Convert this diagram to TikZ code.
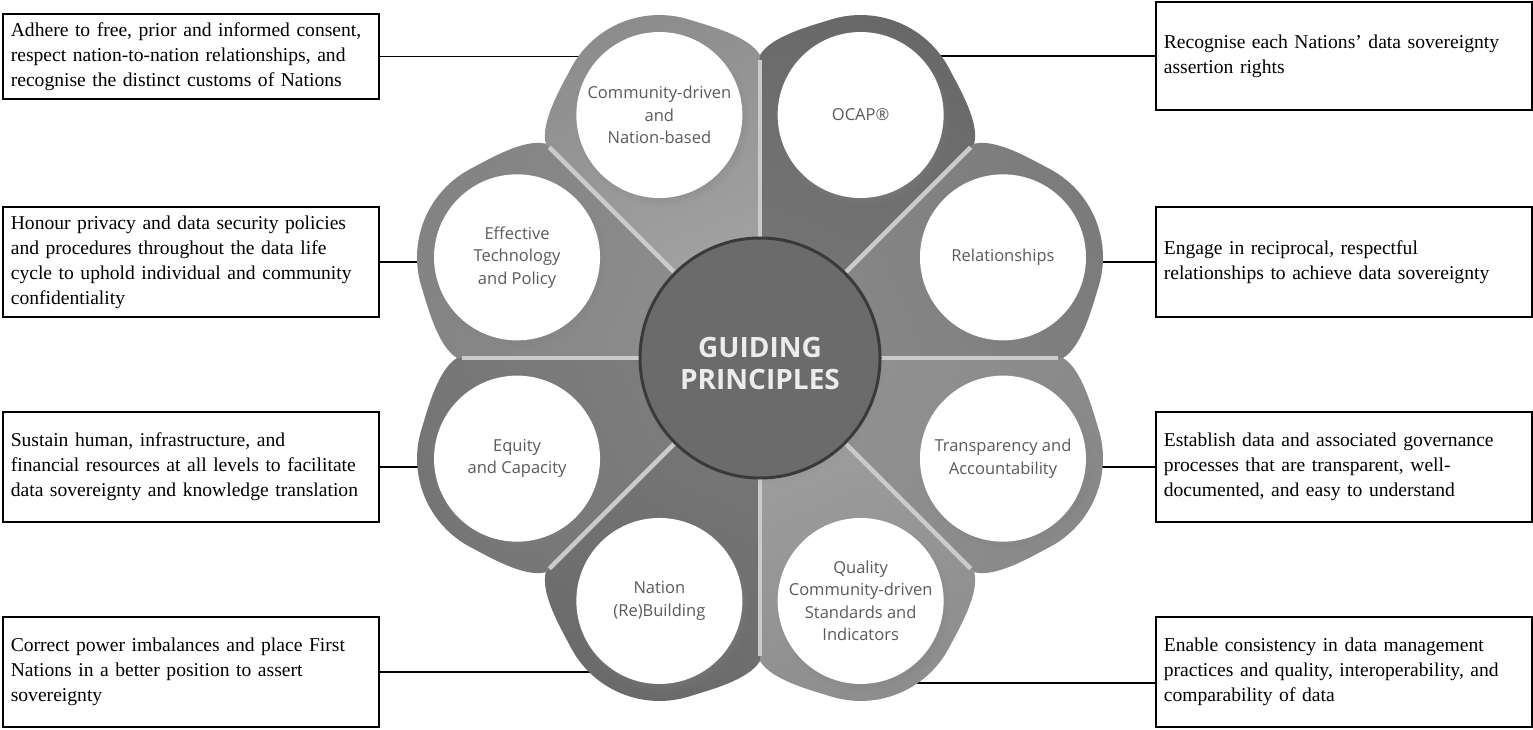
\documentclass[tikz,border=0pt]{standalone}
\usepackage{fontspec}
\setmainfont{Liberation Serif}
\newfontfamily\labelfont{Open Sans}
\usepackage{tikz}
\usetikzlibrary{positioning,shadows,backgrounds}
\hyphenpenalty=10000

% ring colour and lighter tail colour of each petal
\definecolor{cdgray}{HTML}{8C8C8C}    \definecolor{cdtail}{HTML}{A6A6A6}
\definecolor{ocapgray}{HTML}{686868}  \definecolor{ocaptail}{HTML}{777777}
\definecolor{relgray}{HTML}{7B7B7B}   \definecolor{reltail}{HTML}{898989}
\definecolor{transgray}{HTML}{888888} \definecolor{transtail}{HTML}{929292}
\definecolor{qualgray}{HTML}{8D8D8D}  \definecolor{qualtail}{HTML}{A0A0A0}
\definecolor{nationgray}{HTML}{6A6A6A}\definecolor{nationtail}{HTML}{787878}
\definecolor{equitygray}{HTML}{757575}\definecolor{equitytail}{HTML}{7E7E7E}
\definecolor{effgray}{HTML}{838383}   \definecolor{efftail}{HTML}{8E8E8E}
\definecolor{hubgray}{HTML}{6B6B6B}
\definecolor{hubedge}{HTML}{3A3A3A}
\definecolor{hubtext}{HTML}{ECECEC}
\definecolor{labeltext}{HTML}{5A5A5A}
\definecolor{dividergray}{HTML}{CBCBCB}

\begin{document}
\begin{tikzpicture}[x=1pt,y=1pt,
  note/.style={draw=black,line width=1.6pt,fill=white,align=left,text width=360pt,
    inner xsep=8pt,inner ysep=0pt,minimum height=110pt,
    font=\fontsize{19.6}{25}\selectfont},
  petal/.style={circle,fill=white,minimum size=166pt,inner sep=0pt,align=center,
    text=labeltext,font=\labelfont\fontsize{16.5}{22.5}\selectfont,
    circular drop shadow={shadow xshift=3pt,shadow yshift=-4pt,opacity=.45,shadow scale=1.05}},
  hub/.style={circle,fill=hubgray,draw=hubedge,line width=3pt,minimum size=240pt,inner sep=0pt,
    circular drop shadow={shadow xshift=2pt,shadow yshift=-3pt,opacity=.3,shadow scale=1.03}},
  hubtitle/.style={align=center,text=hubtext,font=\labelfont\bfseries\fontsize{28}{32}\selectfont},
  link/.style={line width=1.6pt,black},
  divider/.style={line width=4.5pt,dividergray}]
  \useasboundingbox (0,0) rectangle (1533,729);
  \coordinate (O) at (760,371);
  % petal bodies: a wedge towards the hub and a round head
  \foreach \ang/\col/\tail in {112.5/cdgray/cdtail,67.5/ocapgray/ocaptail,22.5/relgray/reltail,
      -22.5/transgray/transtail,-67.5/qualgray/qualtail,-112.5/nationgray/nationtail,
      -157.5/equitygray/equitytail,157.5/effgray/efftail}{
    \pgfmathsetmacro\sang{\ang-90}
    \begin{scope}[shift={(O)},rotate=\ang]
      \shade[top color=\col,bottom color=\tail,shading angle=\sang]
        (0,0) -- (22.5:303) .. controls (301.7,112.8) and (325.5,81.2) .. (339.6,64.3)
        arc[start angle=40,end angle=-40,radius=100pt]
        .. controls (325.5,-81.2) and (301.7,-112.8) .. (-22.5:303) -- cycle;
    \end{scope}
  }
  % light gaps between the petals
  \foreach \ang in {0,45,...,315}
    \draw[divider] (O) -- ([shift={(\ang:298)}]O);
  % petal heads
  \node[petal] (cd) at ([shift={(112.5:263)}]O) {Community-driven\\and\\Nation-based};
  \node[petal] (ocap) at ([shift={(67.5:263)}]O) {OCAP®};
  \node[petal] (rel) at ([shift={(22.5:263)}]O) {Relationships};
  \node[petal] (trans) at ([shift={(-22.5:263)}]O) {Transparency and\\Accountability};
  \node[petal] (qual) at ([shift={(-67.5:263)}]O) {Quality\\Community-driven\\Standards and\\Indicators};
  \node[petal] (nation) at ([shift={(-112.5:263)}]O) {Nation\\(Re)Building};
  \node[petal] (equity) at ([shift={(-157.5:263)}]O) {Equity\\and Capacity};
  \node[petal] (eff) at ([shift={(157.5:263)}]O) {Effective\\Technology\\and Policy};
  \node[hub] (gp) at (O) {};
  \node[hubtitle] (gptitle) at ([yshift=-5pt]gp.center) {GUIDING\\PRINCIPLES};
  % notes on the left
  \node[note,anchor=west,minimum height=85pt] (cdnote) at (2,672.5)
    {Adhere to free, prior and informed consent,\\respect nation-to-nation relationships, and\\recognise the distinct customs of Nations};
  \node[note,anchor=west] (effnote) at (2,467)
    {Honour privacy and data security policies\\and procedures throughout the data life\\cycle to uphold individual and community\\confidentiality};
  \node[note,anchor=west] (equitynote) at (2,262)
    {Sustain human, infrastructure, and\\financial resources at all levels to facilitate\\data sovereignty and knowledge translation};
  \node[note,anchor=west] (nationnote) at (2,57)
    {Correct power imbalances and place First\\Nations in a better position to assert\\sovereignty};
  % notes on the right
  \node[note,anchor=west,minimum height=108pt] (ocapnote) at (1155,673)
    {Recognise each Nations’ data sovereignty\\assertion rights};
  \node[note,anchor=west] (relnote) at (1155,467)
    {Engage in reciprocal, respectful\\relationships to achieve data sovereignty};
  \node[note,anchor=west] (transnote) at (1155,262)
    {Establish data and associated governance\\processes that are transparent, well-\\documented, and easy to understand};
  \node[note,anchor=west] (qualnote) at (1155,57)
    {Enable consistency in data management\\practices and quality, interoperability, and\\comparability of data};
  % connectors run under the petals
  \begin{scope}[on background layer]
    \draw[link] (cdnote.east) -- (cdnote.east -| cd.center);
    \draw[link] (effnote.east) -- (effnote.east -| eff.center);
    \draw[link] (equitynote.east) -- (equitynote.east -| equity.center);
    \draw[link] (nationnote.east) -- (nationnote.east -| nation.center);
    \draw[link] (ocapnote.west) -- (ocapnote.west -| ocap.center);
    \draw[link] (relnote.west) -- (relnote.west -| rel.center);
    \draw[link] (transnote.west) -- (transnote.west -| trans.center);
    \draw[link] ([yshift=-11pt]qualnote.west) -- ([yshift=-11pt]qualnote.west -| qual.center);
  \end{scope}
\end{tikzpicture}
\end{document}
